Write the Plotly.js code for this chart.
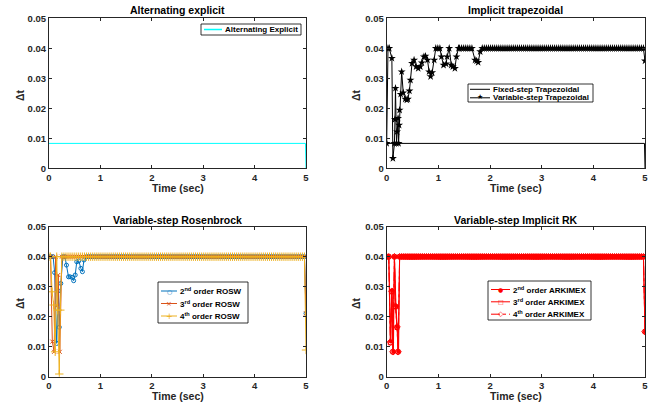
<!DOCTYPE html>
<html>
<head>
<meta charset="utf-8">
<script src="https://cdn.plot.ly/plotly-3.0.1.min.js"></script>
<style>html,body{margin:0;padding:0;background:#fff;}#chart{width:670px;height:404px;}</style>
</head>
<body>
<div id="chart"></div>
<script>
// ---------- data ----------
const DT_MAX = 0.04;
// times of the constant max-step stretches (dt = 0.04 s)
const steadyT = [0.25,0.29,0.33,0.37,0.41,0.45,0.49,0.53,0.57,0.61,0.65,0.69,0.73,0.77,0.81,0.85,0.89,0.93,0.97,1.01,1.05,1.09,1.13,1.17,1.21,1.25,1.29,1.33,1.37,1.41,1.45,1.49,1.53,1.57,1.61,1.65,1.69,1.73,1.77,1.81,1.85,1.89,1.93,1.97,2.01,2.05,2.09,2.13,2.17,2.21,2.25,2.29,2.33,2.37,2.41,2.45,2.49,2.53,2.57,2.61,2.65,2.69,2.73,2.77,2.81,2.85,2.89,2.93,2.97,3.01,3.05,3.09,3.13,3.17,3.21,3.25,3.29,3.33,3.37,3.41,3.45,3.49,3.53,3.57,3.61,3.65,3.69,3.73,3.77,3.81,3.85,3.89,3.93,3.97,4.01,4.05,4.09,4.13,4.17,4.21,4.25,4.29,4.33,4.37,4.41,4.45,4.49,4.53,4.57,4.61,4.65,4.69,4.73,4.77,4.81,4.85,4.89,4.93,4.97];

// Alternating explicit
const explT  = [0, 4.99, 5.0];
const explDt = [0.0083, 0.0083, 0.0];

// Fixed-step trapezoidal
const fixTrapT  = [0, 4.99, 5.0];
const fixTrapDt = [0.0083, 0.0083, 0.0];

// Variable-step trapezoidal
const varTrapT  = [0,0.025,0.05,0.10,0.12,0.15,0.16,0.17,0.19,0.20,0.22,0.23,0.24,0.25,0.27,0.29,0.32,0.36,0.39,0.41,0.44,0.46,0.49,0.53,0.57,0.61,0.65,0.68,0.72,0.75,0.79,0.82,0.85,0.88,0.92,0.95,0.99,1.03,1.06,1.10,1.15,1.17,1.21,1.25,1.28,1.32,1.35,1.39];
const varTrapDt = [0.0083,0.04,0.04,0.0367,0.0033,0.0083,0.0163,0.0267,0.0083,0.0122,0.0167,0.0083,0.0144,0.0194,0.0247,0.0322,0.0252,0.0231,0.0228,0.0231,0.0258,0.0294,0.035,0.0361,0.0339,0.0333,0.0339,0.0352,0.0372,0.0374,0.0361,0.0322,0.0306,0.0319,0.0361,0.04,0.04,0.04,0.0372,0.0344,0.0348,0.0372,0.04,0.0344,0.0339,0.0333,0.0372,0.04];
const varTrapDipT  = [1.71,1.74,1.77,1.81];
const varTrapDipDt = [0.0361,0.0358,0.0353,0.0389];
const varTrapEndDt = 0.0358;

// ROSW
const rosw2T  = [0,0.04,0.08,0.11,0.15,0.18,0.20,0.23,0.27,0.31,0.34,0.38,0.41,0.45,0.48,0.51,0.54,0.58,0.62,0.65,0.68];
const rosw2Dt = [0.04,0.04,0.04,0.0347,0.0111,0.0286,0.0165,0.0311,0.04,0.04,0.0372,0.0333,0.0333,0.0331,0.032,0.0339,0.0383,0.0386,0.0361,0.035,0.0389];
const rosw2EndDt = 0.0211;
const rosw3T  = [0,0.03,0.065,0.10,0.13,0.16,0.18,0.21];
const rosw3Dt = [0.04,0.04,0.0117,0.0083,0.04,0.0236,0.0339,0.0083];
const rosw3EndDt = 0.0211;
const rosw4T  = [0,0.03,0.06,0.09,0.12,0.15,0.17,0.20,0.22];
const rosw4Dt = [0.04,0.04,0.0283,0.0239,0.0083,0.04,0.0222,0.0009,0.0222];
const rosw4EndDt = 0.0089;

// ARKIMEX
const ark2T  = [0,0.04,0.08,0.10,0.13,0.15,0.18,0.20,0.23];
const ark2Dt = [0.04,0.04,0.0117,0.0287,0.0083,0.04,0.0236,0.0167,0.0083];
const ark3T  = [0,0.04,0.07,0.10,0.12,0.15,0.17,0.20,0.22];
const ark3Dt = [0.04,0.04,0.0113,0.0283,0.0083,0.04,0.0233,0.0164,0.0083];
const ark4T  = [0,0.04,0.07,0.10,0.12,0.15,0.17,0.20,0.22];
const ark4Dt = [0.04,0.04,0.0115,0.0285,0.0083,0.04,0.0235,0.0166,0.0083];
const arkEndDt = 0.015;
const T_END = 5.0;

const titles = ['Alternating explicit','Implicit trapezoidal','Variable-step Rosenbrock','Variable-step Implicit RK'];
const xTitle = 'Time (sec)';
const yTitle = '\u0394t';
const namesExpl = ['Alternating Explicit'];
const namesTrap = ['Fixed-step Trapezoidal','Variable-step Trapezoidal'];
const namesRosw = ['2<sup>nd</sup> order ROSW','3<sup>rd</sup> order ROSW','4<sup>th</sup> order ROSW'];
const namesArk  = ['2<sup>nd</sup> order ARKIMEX','3<sup>rd</sup> order ARKIMEX','4<sup>th</sup> order ARKIMEX'];

// ---------- helpers ----------
const W = 670, H = 404;
const px = x => x / W, py = y => 1 - y / H;
const steadyBetween = (a, b) => steadyT.filter(t => t > a && t < b);
function seg(transT, transDt, a, b) {
  const s = steadyBetween(a, b);
  return { x: transT.concat(s), y: transDt.concat(s.map(() => DT_MAX)) };
}
function join(...parts) {
  return { x: [].concat(...parts.map(p => p.x)), y: [].concat(...parts.map(p => p.y)) };
}

const FONT = 'Liberation Sans, Arial, Helvetica, sans-serif';
const AX = '#262626';
const C_CYAN = '#00FFFF', C_BLK = '#000000', C_BLUE = '#0072BD', C_ORG = '#D95319', C_YEL = '#EDB120', C_RED = '#FF0000';

// ---------- traces ----------
const traces = [];
traces.push({x: explT, y: explDt, xaxis:'x', yaxis:'y', mode:'lines', name:namesExpl[0],
  line:{color:C_CYAN, width:1}});

traces.push({x: fixTrapT, y: fixTrapDt, xaxis:'x2', yaxis:'y2', mode:'lines', name:namesTrap[0],
  line:{color:C_BLK, width:1}});
const vt = join(seg(varTrapT, varTrapDt, 1.40, 1.68), {x: varTrapDipT, y: varTrapDipDt},
  seg([], [], 1.83, 5), {x:[T_END], y:[varTrapEndDt]});
traces.push({x: vt.x, y: vt.y, xaxis:'x2', yaxis:'y2', mode:'lines+markers', name:namesTrap[1],
  line:{color:C_BLK, width:1}, marker:{symbol:'star', size:6, color:C_BLK}});

const r2 = join(seg(rosw2T, rosw2Dt, 0.70, 5), {x:[T_END], y:[rosw2EndDt]});
const r3 = join(seg(rosw3T, rosw3Dt, 0.24, 5), {x:[T_END], y:[rosw3EndDt]});
const r4 = join(seg(rosw4T, rosw4Dt, 0.24, 5), {x:[T_END], y:[rosw4EndDt]});
traces.push({x:r2.x, y:r2.y, xaxis:'x3', yaxis:'y3', mode:'lines+markers', name:namesRosw[0],
  line:{color:C_BLUE, width:1}, marker:{symbol:'circle-open', size:4, color:C_BLUE, line:{width:1}}});
traces.push({x:r3.x, y:r3.y, xaxis:'x3', yaxis:'y3', mode:'lines+markers', name:namesRosw[1],
  line:{color:C_ORG, width:1}, marker:{symbol:'x-thin-open', size:4, color:C_ORG, line:{width:1, color:C_ORG}}});
traces.push({x:r4.x, y:r4.y, xaxis:'x3', yaxis:'y3', mode:'lines+markers', name:namesRosw[2],
  line:{color:C_YEL, width:1}, marker:{symbol:'cross-thin-open', size:6, color:C_YEL, line:{width:1, color:C_YEL}}});

const a2 = join(seg(ark2T, ark2Dt, 0.24, 5), {x:[T_END], y:[arkEndDt]});
const a3 = join(seg(ark3T, ark3Dt, 0.24, 5), {x:[T_END], y:[arkEndDt]});
const a4 = join(seg(ark4T, ark4Dt, 0.24, 5), {x:[T_END], y:[arkEndDt]});
traces.push({x:a2.x, y:a2.y, xaxis:'x4', yaxis:'y4', mode:'lines+markers', name:namesArk[0],
  line:{color:C_RED, width:1}, marker:{symbol:'circle', size:4, color:C_RED}});
traces.push({x:a3.x, y:a3.y, xaxis:'x4', yaxis:'y4', mode:'lines+markers', name:namesArk[1],
  line:{color:C_RED, width:1}, marker:{symbol:'square-open', size:4, color:C_RED, line:{width:1}}});
traces.push({x:a4.x, y:a4.y, xaxis:'x4', yaxis:'y4', mode:'lines+markers', name:namesArk[2],
  line:{color:C_RED, width:1, dash:'dashdot'}, marker:{symbol:'diamond-open', size:5, color:C_RED, line:{width:1}}});

// ---------- layout ----------
const xDomL = [px(49), px(306)], xDomR = [px(386.7), px(645)];
const yDomT = [py(168.3), py(18.3)], yDomB = [py(376.7), py(226.7)];
function xa(dom, anchor) {
  return {domain: dom, anchor, range:[0,5], tickvals:[0,1,2,3,4,5], ticks:'inside', ticklen:3, tickcolor:AX,
    showline:true, linecolor:AX, linewidth:1, mirror:'ticks', showgrid:false, zeroline:false,
    tickfont:{family:FONT, size:9.5, color:AX, weight:'bold'}};
}
function ya(dom, anchor) {
  return {domain: dom, anchor, range:[0,0.05], tickvals:[0,0.01,0.02,0.03,0.04,0.05],
    ticktext:['0','0.01','0.02','0.03','0.04','0.05'], ticks:'inside', ticklen:3, tickcolor:AX,
    showline:true, linecolor:AX, linewidth:1, mirror:'ticks', showgrid:false, zeroline:false,
    tickfont:{family:FONT, size:9.5, color:AX, weight:'bold'}};
}
const ann = [], shapes = [];
function txt(x, y, t, size, opts) {
  opts = opts || {};
  ann.push({xref:'paper', yref:'paper', x: px(x), y: py(y), text: t, showarrow:false,
    xanchor: opts.xanchor || 'center', yanchor:'middle', textangle: opts.rot || 0,
    font:{family: opts.family || FONT, size, color: opts.color || '#000', weight: opts.weight || 'bold'}});
}
txt(177.5, 9.5, titles[0], 10.5);
txt(515.8, 9.5, titles[1], 10.5);
txt(177.5, 219.5, titles[2], 10.5);
txt(515.8, 219.5, titles[3], 10.5);
txt(177.5, 187.5, xTitle, 10.5, {color:AX});
txt(515.8, 187.5, xTitle, 10.5, {color:AX});
txt(177.5, 396, xTitle, 10.5, {color:AX});
txt(515.8, 396, xTitle, 10.5, {color:AX});
txt(20, 95, yTitle, 10.5, {rot:-90, color:AX});
txt(356, 95, yTitle, 10.5, {rot:-90, color:AX});
txt(20, 303, yTitle, 10.5, {rot:-90, color:AX});
txt(356, 303, yTitle, 10.5, {rot:-90, color:AX});

// custom compact legends (MATLAB style)
function legendBox(x0, y0, x1, y1, lineX0, lineX1, textX, rows) {
  shapes.push({type:'rect', xref:'paper', yref:'paper', x0:px(x0), x1:px(x1), y0:py(y1), y1:py(y0),
    line:{color:'#000', width:0.8}, fillcolor:'#fff', layer:'above'});
  rows.forEach(r => {
    shapes.push({type:'line', xref:'paper', yref:'paper', x0:px(lineX0), x1:px(lineX1), y0:py(r.y), y1:py(r.y),
      line:{color:r.color, width: r.width || 1, dash: r.dash || 'solid'}, layer:'above'});
    if (r.glyph) txt((lineX0 + lineX1) / 2, r.y + (r.gdy || 0), r.glyph, r.gsize || 8,
      {color:r.color, family:'DejaVu Sans, sans-serif', weight:'normal'});
    txt(textX, r.y, r.label, 8, {xanchor:'left'});
  });
}
legendBox(201, 24, 301, 35, 204, 222, 222.5, [{y:29.5, color:C_CYAN, width:1.5, label:namesExpl[0]}]);
legendBox(468, 84, 593, 102, 470, 490, 490.5, [
  {y:89.3, color:C_BLK, label:namesTrap[0]},
  {y:97.8, color:C_BLK, label:namesTrap[1], glyph:'\u2605', gsize:7, gdy:-0.5}]);
legendBox(158, 282, 248, 323, 161, 177, 177.5, [
  {y:291, color:C_BLUE, label:namesRosw[0], glyph:'\u25CB', gsize:6},
  {y:303.5, color:C_ORG, label:namesRosw[1], glyph:'\u00D7', gsize:7},
  {y:316, color:C_YEL, label:namesRosw[2], glyph:'+', gsize:8}]);
legendBox(488, 281, 591, 320, 491, 510, 510.5, [
  {y:289.5, color:C_RED, label:namesArk[0], glyph:'\u25CF', gsize:6},
  {y:301.8, color:C_RED, label:namesArk[1], glyph:'\u25A1', gsize:6},
  {y:314.2, color:C_RED, label:namesArk[2], glyph:'\u25C7', gsize:7, dash:'dashdot'}]);

const layout = {
  width: W, height: H, margin:{l:0, r:0, t:0, b:0}, paper_bgcolor:'#fff', plot_bgcolor:'#fff',
  showlegend: false,
  xaxis: xa(xDomL, 'y'), yaxis: ya(yDomT, 'x'),
  xaxis2: xa(xDomR, 'y2'), yaxis2: ya(yDomT, 'x2'),
  xaxis3: xa(xDomL, 'y3'), yaxis3: ya(yDomB, 'x3'),
  xaxis4: xa(xDomR, 'y4'), yaxis4: ya(yDomB, 'x4'),
  shapes, annotations: ann
};
Plotly.newPlot('chart', traces, layout, {displayModeBar:false, staticPlot:true});
</script>
</body>
</html>
